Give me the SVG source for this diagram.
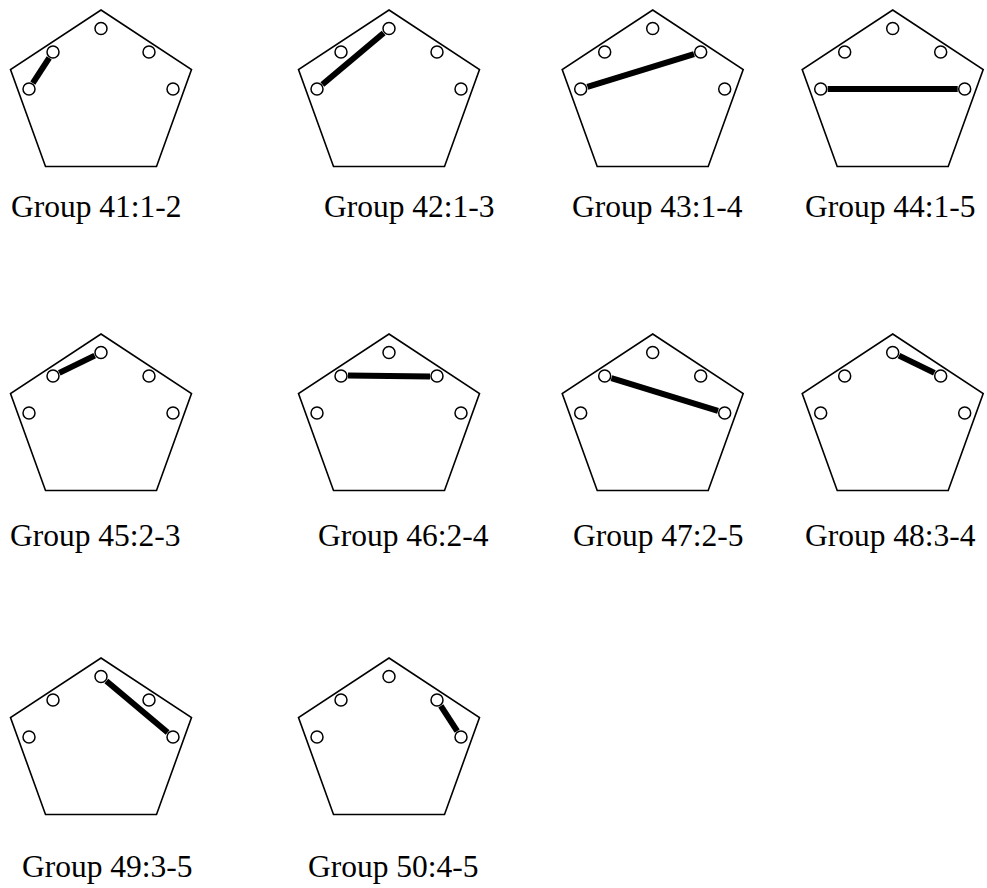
<svg xmlns="http://www.w3.org/2000/svg" xmlns:xlink="http://www.w3.org/1999/xlink" width="987" height="888" viewBox="0 0 987 888">
<style>
.pent{fill:none;stroke:#000;stroke-width:1.6;stroke-linejoin:miter}
.dot{fill:#fff;stroke:#000;stroke-width:1.5}
.bar{stroke:#000;stroke-width:6;stroke-linecap:butt}
.lbl{font-family:"Liberation Serif","Times New Roman",serif;font-size:31.5px;fill:#000}
</style>
<defs>
<polygon id="pent" class="pent" points="0,0 90.5,59.5 55.5,156.5 -55.5,156.5 -90.5,59.5"/>
<g id="dots">
<circle class="dot" cx="-72" cy="79" r="6"/>
<circle class="dot" cx="-48" cy="42" r="6"/>
<circle class="dot" cx="0" cy="18.5" r="6"/>
<circle class="dot" cx="48" cy="42" r="6"/>
<circle class="dot" cx="72" cy="79" r="6"/>
</g>
</defs>
<rect width="987" height="888" fill="#fff"/>

<g id="group41">
<g transform="translate(101,10)"><use xlink:href="#pent"/><line class="bar" x1="-68.19" y1="73.13" x2="-51.81" y2="47.87"/><use xlink:href="#dots"/></g>
<text class="lbl" x="11" y="217">Group 41:1-2</text>
</g>
<g id="group42">
<g transform="translate(389,10)"><use xlink:href="#pent"/><line class="bar" x1="-66.64" y1="74.5" x2="-5.36" y2="23"/><use xlink:href="#dots"/></g>
<text class="lbl" x="324" y="217">Group 42:1-3</text>
</g>
<g id="group43">
<g transform="translate(652.7,10)"><use xlink:href="#pent"/><line class="bar" x1="-65.31" y1="76.94" x2="41.31" y2="44.06"/><use xlink:href="#dots"/></g>
<text class="lbl" x="572" y="217">Group 43:1-4</text>
</g>
<g id="group44">
<g transform="translate(892.7,10)"><use xlink:href="#pent"/><line class="bar" x1="-65" y1="79" x2="65" y2="79"/><use xlink:href="#dots"/></g>
<text class="lbl" x="805" y="217">Group 44:1-5</text>
</g>

<g id="group45">
<g transform="translate(101,334)"><use xlink:href="#pent"/><line class="bar" x1="-41.71" y1="38.92" x2="-6.29" y2="21.58"/><use xlink:href="#dots"/></g>
<text class="lbl" x="10" y="546">Group 45:2-3</text>
</g>
<g id="group46">
<g transform="translate(389,334)"><use xlink:href="#pent"/><line class="bar" x1="-41" y1="41.5" x2="41" y2="42.5"/><use xlink:href="#dots"/></g>
<text class="lbl" x="318" y="546">Group 46:2-4</text>
</g>
<g id="group47">
<g transform="translate(652.7,334)"><use xlink:href="#pent"/><line class="bar" x1="-41.31" y1="44.06" x2="65.31" y2="76.94"/><use xlink:href="#dots"/></g>
<text class="lbl" x="573" y="546">Group 47:2-5</text>
</g>
<g id="group48">
<g transform="translate(892.7,334)"><use xlink:href="#pent"/><line class="bar" x1="6.29" y1="21.58" x2="41.71" y2="38.92"/><use xlink:href="#dots"/></g>
<text class="lbl" x="805" y="546">Group 48:3-4</text>
</g>

<g id="group49">
<g transform="translate(101,658)"><use xlink:href="#pent"/><line class="bar" x1="5.36" y1="23" x2="66.64" y2="74.5"/><use xlink:href="#dots"/></g>
<text class="lbl" x="22" y="877">Group 49:3-5</text>
</g>
<g id="group50">
<g transform="translate(389,658)"><use xlink:href="#pent"/><line class="bar" x1="51.81" y1="47.87" x2="68.19" y2="73.13"/><use xlink:href="#dots"/></g>
<text class="lbl" x="308" y="877">Group 50:4-5</text>
</g>
</svg>
